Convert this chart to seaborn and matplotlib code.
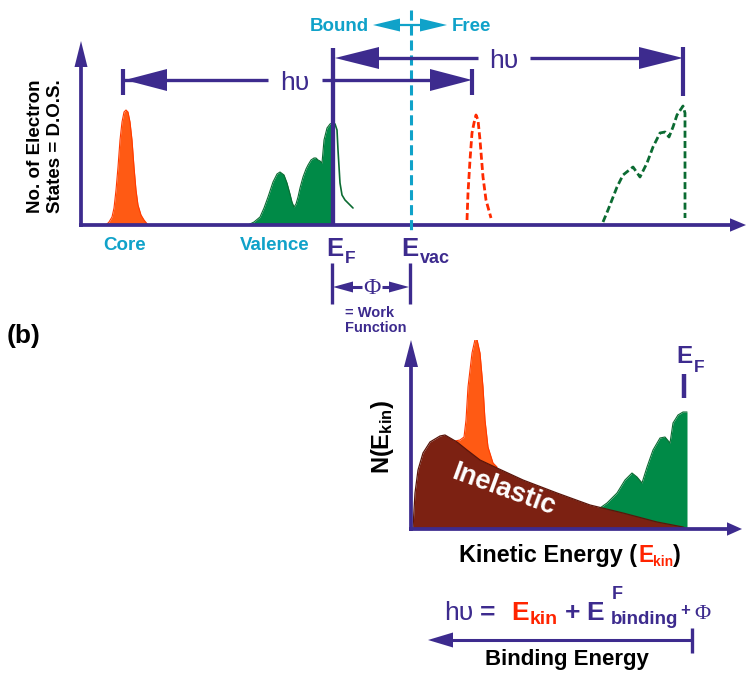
import matplotlib
matplotlib.use("Agg")
import matplotlib.pyplot as plt
from matplotlib.patches import Polygon
import seaborn as sns

sns.set_style("white")
plt.rcParams["font.family"] = ["Liberation Sans", "DejaVu Sans"]
plt.rcParams["mathtext.fontset"] = "custom"
plt.rcParams["mathtext.rm"] = "Liberation Sans"
plt.rcParams["mathtext.it"] = "Liberation Sans:italic"
plt.rcParams["mathtext.bf"] = "Liberation Sans:bold"

PURPLE = "#3d2b8e"
CYAN = "#10a2c9"
ORANGE = "#ff5a14"
ORANGE_EDGE = "#ff3a00"
GREEN = "#008a47"
DKGREEN = "#0b6b32"
REDDOT = "#ff2a00"
INEL = "#7c2112"
INEL_EDGE = "#5a150a"
RED = "#ff2400"

# ---- (a) density of states vs. energy (arbitrary units) ----
core_energy = [25, 28, 31, 33, 35, 37, 39, 41, 43, 45, 47, 49, 51, 53, 55, 57, 60, 63, 67]
core_dos = [0, 3, 8, 17, 35, 58, 85, 103, 113, 115, 113, 103, 85, 58, 35, 20, 10, 5, 0]

valence_energy = [167, 173, 179, 183, 187, 192, 196, 199, 203, 206, 209, 211, 213, 215, 217,
                  219, 222, 225, 227, 230, 233, 235, 237, 239, 241, 243, 246, 249, 251, 252]
valence_dos = [0, 3, 8, 17, 28, 43, 51, 53, 50, 42, 31, 23, 18, 21, 28,
               37, 48, 56, 60, 65, 67, 67, 65, 64, 62, 85, 97, 101, 102, 102]

tail_energy = [252, 254, 256, 257, 259, 261, 264, 268, 272]
tail_dos = [102, 101, 95, 75, 42, 30, 25, 21, 17]

core_emitted_energy = [386, 387, 389, 391, 393, 395, 397, 399, 402, 405, 410]
core_emitted_dos = [5, 32, 65, 92, 102, 110, 105, 85, 48, 25, 7]

valence_emitted_energy = [522, 527, 536, 542, 552, 559, 566, 572, 579, 584, 588, 592, 596, 602, 604, 604]
valence_emitted_dos = [3, 15, 38, 50, 58, 48, 62, 78, 92, 93, 88, 98, 110, 119, 112, 7]

# ---- (b) photoelectron spectrum N(E_kin) ----
inelastic_ekin = [2, 3, 4, 7, 12, 19, 29, 34, 46, 56, 69, 86, 112, 146, 179, 212, 246, 272, 276]
inelastic_counts = [0, 19, 36, 59, 76, 87, 93, 94, 87, 79, 69, 61, 49, 36, 24, 16, 7, 2, 0]

core_ekin = [44, 49, 53, 55, 57, 61, 65, 69, 72, 74, 77, 82, 86]
core_counts = [88, 89, 92, 109, 142, 176, 194, 176, 142, 109, 82, 66, 62]

valence_ekin = [189, 196, 206, 214, 221, 226, 231, 236, 242, 249, 254, 259, 262, 267, 272, 276]
valence_counts = [21, 26, 36, 49, 56, 52, 46, 62, 79, 91, 92, 86, 106, 114, 117, 117]

W, H = 746, 675
fig = plt.figure(figsize=(W / 100, H / 100), dpi=100)


def box(x0, ybot, x1, ytop):
    return [x0 / W, 1 - ybot / H, (x1 - x0) / W, (ybot - ytop) / H]


# data axes for the two panels
ax_a = fig.add_axes(box(81, 225, 746, 40))
ax_a.set_xlim(0, 665)
ax_a.set_ylim(0, 185)
ax_a.axis("off")

ax_b = fig.add_axes(box(411, 529, 742, 340))
ax_b.set_xlim(0, 331)
ax_b.set_ylim(0, 189)
ax_b.axis("off")

# panel (a) curves
ax_a.fill_between(core_energy, core_dos, color=ORANGE, lw=0)
sns.lineplot(x=core_energy, y=core_dos, ax=ax_a, color=ORANGE_EDGE, lw=0.8,
             sort=False, estimator=None)
ax_a.fill_between(valence_energy, valence_dos, color=GREEN, lw=0)
sns.lineplot(x=valence_energy, y=valence_dos, ax=ax_a, color=DKGREEN, lw=0.8,
             sort=False, estimator=None)
sns.lineplot(x=tail_energy, y=tail_dos, ax=ax_a, color=DKGREEN, lw=1.2,
             sort=False, estimator=None)
sns.lineplot(x=core_emitted_energy, y=core_emitted_dos, ax=ax_a, color=REDDOT, lw=2.0,
             linestyle=(0, (2.5, 1.2)), sort=False, estimator=None)
sns.lineplot(x=valence_emitted_energy, y=valence_emitted_dos, ax=ax_a, color=DKGREEN, lw=2.0,
             linestyle=(0, (2.5, 1.2)), sort=False, estimator=None)

# panel (b) curves: peaks first, inelastic background on top
ax_b.fill_between(core_ekin, core_counts, color=ORANGE, lw=0)
sns.lineplot(x=core_ekin, y=core_counts, ax=ax_b, color=ORANGE_EDGE, lw=0.8,
             sort=False, estimator=None)
ax_b.fill_between(valence_ekin, valence_counts, color=GREEN, lw=0)
sns.lineplot(x=valence_ekin, y=valence_counts, ax=ax_b, color=DKGREEN, lw=0.8,
             sort=False, estimator=None)
ax_b.fill_between(inelastic_ekin, inelastic_counts, color=INEL, lw=0)
sns.lineplot(x=inelastic_ekin, y=inelastic_counts, ax=ax_b, color=INEL_EDGE, lw=0.9,
             sort=False, estimator=None)

# overlay in pixel units for axes arrows, markers and labels
ov = fig.add_axes([0, 0, 1, 1], zorder=5)
ov.set_xlim(0, W)
ov.set_ylim(H, 0)
ov.axis("off")


def seg(x0, y0, x1, y1, color=PURPLE, lw=2.4, **kw):
    ov.plot([x0, x1], [y0, y1], color=color, lw=lw, solid_capstyle="butt", **kw)


def head(tx, ty, dx, dy, length, half, color=PURPLE):
    bx, by = tx - dx * length, ty - dy * length
    px, py = -dy, dx
    ov.add_patch(Polygon([(tx, ty), (bx + px * half, by + py * half), (bx - px * half, by - py * half)],
                         closed=True, facecolor=color, edgecolor="none"))


def txt(x, y, s, size, color=PURPLE, weight="bold", ha="left", va="baseline", **kw):
    ov.text(x, y, s, fontsize=size, color=color, fontweight=weight, ha=ha, va=va, **kw)


# ---- panel (a) axes ----
seg(81, 226.5, 81, 62, lw=2.7)
head(81, 41, 0, -1, 26, 6.5)
seg(79, 225, 733, 225, lw=2.7)
head(746, 225, 1, 0, 16, 6.7)

# Fermi level and vacuum level
seg(333, 48, 333, 225, lw=3.1)
seg(411, 10, 411, 233, color=CYAN, lw=2.2, linestyle=(0, (3.3, 1.6)))

# Bound <-> Free
seg(390, 25, 432, 25, color=CYAN, lw=1.6)
head(373, 25, -1, 0, 27, 6.5, color=CYAN)
head(447, 25, 1, 0, 27, 6.5, color=CYAN)
txt(369, 31, "Bound", 13.5, color=CYAN, ha="right")
txt(452, 31, "Free", 13.5, color=CYAN)

# photon energy arrows
seg(123, 80, 268, 80)
seg(322, 80, 440, 80)
head(125, 80, -1, 0, 42, 11)
head(472, 80, 1, 0, 42, 11)
seg(123, 69, 123, 95, lw=3.0)
seg(472, 69, 472, 95, lw=3.0)
txt(295, 90, "h\u03c5", 19, weight="normal", ha="center")

seg(345, 58, 478, 58)
seg(530, 58, 660, 58)
head(335, 58, -1, 0, 44, 11)
head(683, 58, 1, 0, 44, 11)
seg(683, 47, 683, 96, lw=3.0)
txt(504, 68, "h\u03c5", 19, weight="normal", ha="center")

# labels of panel (a)
txt(36, 146, "No. of Electron", 13.5, color="black", ha="center", va="center", rotation=90)
txt(56, 146, "States = D.O.S.", 13.5, color="black", ha="center", va="center", rotation=90)
txt(125, 250, "Core", 13.5, color=CYAN, ha="center")
txt(275, 250, "Valence", 13.5, color=CYAN, ha="center")
txt(326, 256, "E", 18.5)
txt(345, 263, "F", 12.5)
txt(401, 256, "E", 18.5)
txt(420, 263, "vac", 13)

# work function
seg(332, 263, 332, 304, lw=2.4)
seg(410, 263, 410, 304, lw=2.4)
seg(345, 287, 362, 287, lw=2.2)
seg(382, 287, 398, 287, lw=2.2)
head(333, 287, -1, 0, 20, 5.5)
head(409, 287, 1, 0, 20, 5.5)
ov.text(372, 288, "\u03a6", fontsize=17, color=PURPLE, family="Liberation Serif",
        ha="center", va="center")
txt(345, 317, "= Work", 10.5)
txt(345, 332, "Function", 10.5)

txt(7, 343, "(b)", 19, color="black")

# ---- panel (b) axes ----
seg(411, 530.5, 411, 362, lw=2.7)
head(411, 340, 0, -1, 27, 7)
seg(409, 529, 729, 529, lw=2.7)
head(742, 529, 1, 0, 15, 6.7)

txt(676, 363, "E", 17.5)
txt(694, 372, "F", 12.5)
seg(684, 374, 684, 398, lw=3.2)

ov.text(383, 437, r"$\mathbf{N(E}_{\mathbf{kin}}\mathbf{)}$", fontsize=17, color="black",
        rotation=90, ha="center", va="center")
txt(503, 490, "Inelastic", 19.5, color="white", ha="center", va="center", rotation=-20)

txt(459, 562, "Kinetic Energy (", 16.8, color="black")
txt(638, 562, "E", 16.5, color=RED)
txt(653, 566, "kin", 10, color=RED)
txt(673, 562, ")", 16.8, color="black")

# photoemission energy balance
txt(444, 620, "h\u03c5", 19, weight="normal")
txt(480, 620, "=", 19)
txt(511, 620, "E", 19, color=RED)
txt(530, 624, "kin", 14, color=RED)
txt(565, 620, "+", 19)
txt(586, 620, "E", 19)
txt(612, 599, "F", 13)
txt(611, 624, "binding", 13.5)
txt(680, 615, "+", 12)
ov.text(694, 619, "\u03a6", fontsize=16, color=PURPLE, family="Liberation Serif", ha="left",
        va="baseline")

seg(450, 640, 692, 640, lw=2.2)
head(428, 640, -1, 0, 25, 7.5)
seg(692, 628, 692, 653, lw=2.4)
txt(567, 665, "Binding Energy", 16, color="black", ha="center")

fig.savefig("out.png", dpi=100)
